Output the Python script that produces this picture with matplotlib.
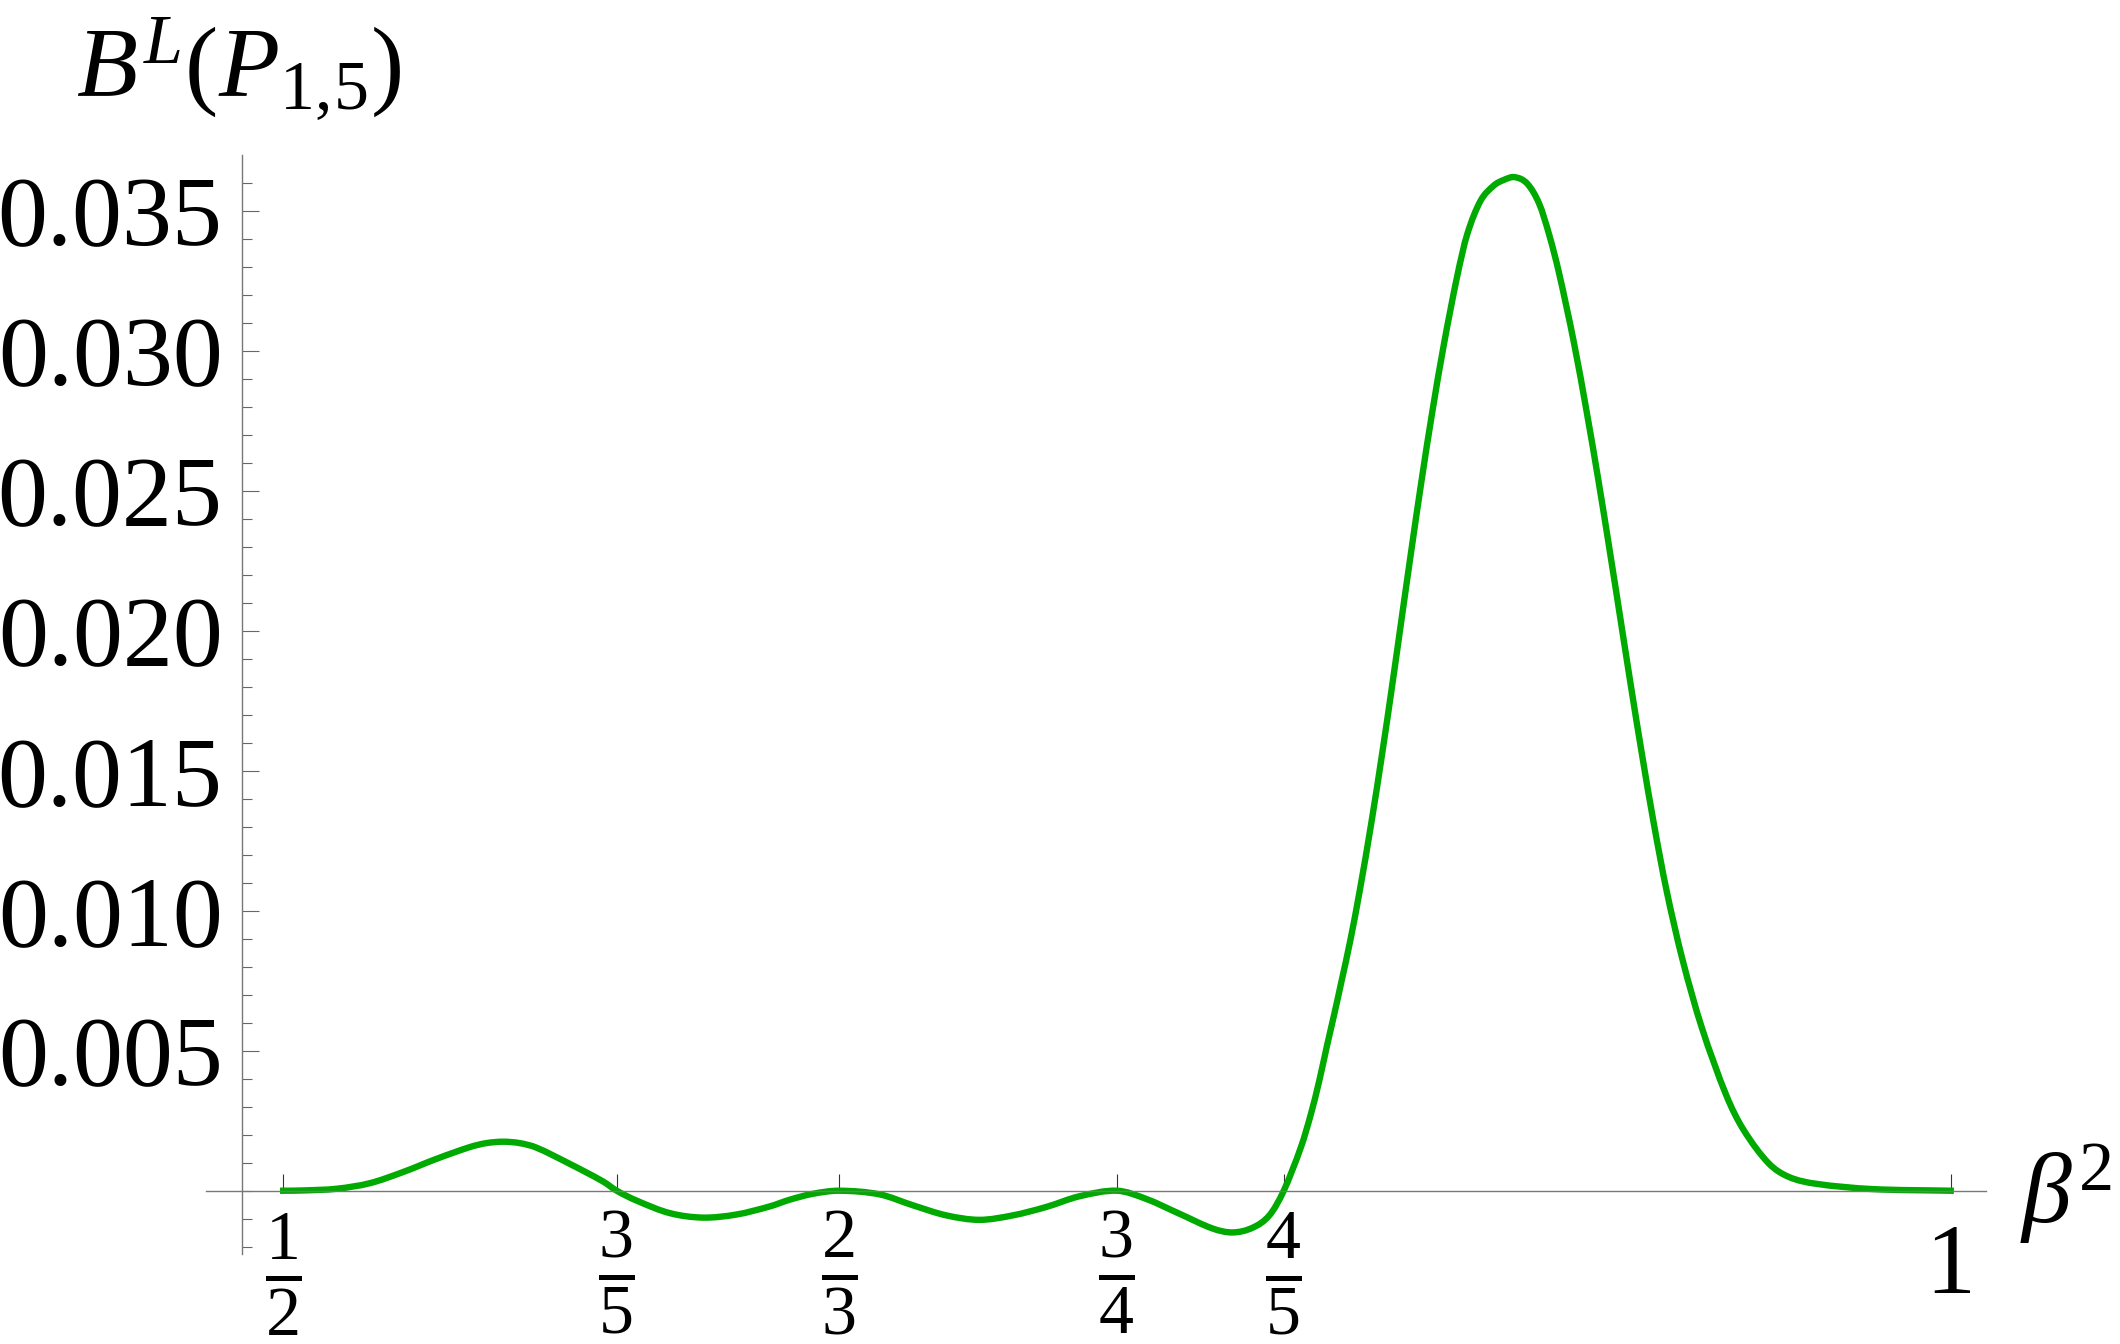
import matplotlib
matplotlib.use('Agg')
import matplotlib.pyplot as plt
from matplotlib.ticker import MultipleLocator, FormatStrFormatter
from matplotlib.path import Path
from matplotlib.patches import PathPatch

plt.rcParams['font.family'] = ['Liberation Serif', 'DejaVu Serif']
plt.rcParams['mathtext.fontset'] = 'custom'
plt.rcParams['mathtext.rm'] = 'Liberation Serif'
plt.rcParams['mathtext.it'] = 'Liberation Serif:italic'
plt.rcParams['mathtext.bf'] = 'Liberation Serif:bold'

# curve: beta^2 -> B^L(P_{1,5})
beta2 = [0.5000, 0.5060, 0.5160, 0.5260, 0.5360, 0.5460, 0.5560, 0.5609, 0.5659, 0.5709,
         0.5759, 0.5859, 0.5959, 0.6000, 0.6059, 0.6159, 0.6259, 0.6359, 0.6459, 0.6519,
         0.6588, 0.6667, 0.6788, 0.6888, 0.6988, 0.7088, 0.7188, 0.7288, 0.7387, 0.7500,
         0.7587, 0.7687, 0.7787, 0.7847, 0.7907, 0.7957, 0.8000, 0.8052, 0.8082, 0.8107,
         0.8129, 0.8152, 0.8174, 0.8199, 0.8228, 0.8263, 0.8295, 0.8325, 0.8354, 0.8383,
         0.8413, 0.8445, 0.8480, 0.8520, 0.8550, 0.8590, 0.8630, 0.8660, 0.8692, 0.8730,
         0.8766, 0.8797, 0.8826, 0.8870, 0.8909, 0.8944, 0.8977, 0.9009, 0.9041, 0.9074,
         0.9109, 0.9148, 0.9195, 0.9253, 0.9327, 0.9378, 0.9454, 0.9515, 0.9595, 0.9763,
         1.0000]
b_l = [0.0, 0.00001, 0.00007, 0.00027, 0.00067, 0.00114, 0.00156, 0.00170, 0.00175, 0.00170,
       0.00154, 0.00096, 0.00033, 0.0, -0.00035, -0.00080, -0.00096, -0.00085, -0.00056, -0.00032,
       -0.00011, 0.0, -0.00013, -0.00052, -0.00088, -0.00104, -0.00088, -0.00058, -0.00020, 0.0,
       -0.00029, -0.00082, -0.00135, -0.00149, -0.00132, -0.00088, 0.0, 0.00157, 0.00276, 0.00395,
       0.00514, 0.00633, 0.00752, 0.00890, 0.01072, 0.01316, 0.01560, 0.01803, 0.02047, 0.02290,
       0.02534, 0.02778, 0.03021, 0.03265, 0.03415, 0.03535, 0.03590, 0.03610, 0.03620, 0.03597,
       0.03525, 0.03410, 0.03275, 0.03030, 0.02778, 0.02534, 0.02290, 0.02047, 0.01803, 0.01560,
       0.01316, 0.01072, 0.00829, 0.00585, 0.00341, 0.00219, 0.00098, 0.00049, 0.00025, 0.00006,
       0.0]

x_ticks = [1/2, 3/5, 2/3, 3/4, 4/5, 1]
x_labels = [r'$\genfrac{}{}{5}{}{1}{2}$', r'$\genfrac{}{}{5}{}{3}{5}$', r'$\genfrac{}{}{5}{}{2}{3}$',
            r'$\genfrac{}{}{5}{}{3}{4}$', r'$\genfrac{}{}{5}{}{4}{5}$', '1']
y_ticks = [0.005, 0.010, 0.015, 0.020, 0.025, 0.030, 0.035]


def smooth_path(xs, ys):
    # cubic Hermite segments through the read points (drawn as a smooth line)
    n = len(xs)
    m = []
    for i in range(n):
        if i == 0:
            m.append((ys[1] - ys[0]) / (xs[1] - xs[0]))
        elif i == n - 1:
            m.append((ys[-1] - ys[-2]) / (xs[-1] - xs[-2]))
        else:
            m.append((ys[i + 1] - ys[i - 1]) / (xs[i + 1] - xs[i - 1]))
    verts = [(xs[0], ys[0])]
    codes = [Path.MOVETO]
    for i in range(n - 1):
        h = xs[i + 1] - xs[i]
        verts += [(xs[i] + h / 3, ys[i] + m[i] * h / 3),
                  (xs[i + 1] - h / 3, ys[i + 1] - m[i + 1] * h / 3),
                  (xs[i + 1], ys[i + 1])]
        codes += [Path.CURVE4] * 3
    return Path(verts, codes)


fig = plt.figure(figsize=(21.2, 13.44), dpi=100)
ax = fig.add_axes([206/2120, 90/1344, 1780/2120, 1099/1344])

curve = PathPatch(smooth_path(beta2, b_l), facecolor='none', edgecolor='#00aa00', lw=4.6,
                  capstyle='projecting', joinstyle='round', zorder=2)
ax.add_patch(curve)

ax.set_xlim(0.47684, 1.01058)
ax.set_ylim(-0.00226, 0.03699)

for s in ['top', 'right']:
    ax.spines[s].set_visible(False)
ax.spines['left'].set_position(('data', 0.48753))
ax.spines['bottom'].set_position(('data', 0))
for s in ['left', 'bottom']:
    ax.spines[s].set_color('#777777')
    ax.spines[s].set_linewidth(1.0)
    ax.spines[s].set_zorder(3)

ax.set_xticks(x_ticks)
ax.set_xticklabels([''] * len(x_ticks))
ax.tick_params(axis='x', direction='in', length=12, width=0.8, color='#333333')

ax.set_yticks(y_ticks)
ax.yaxis.set_major_formatter(FormatStrFormatter('%.3f'))
ax.yaxis.set_minor_locator(MultipleLocator(0.001))
ax.tick_params(axis='y', which='major', direction='in', length=12.2, width=0.8,
               color='#666666', labelsize=72, pad=13.7)
ax.tick_params(axis='y', which='minor', direction='in', length=7.2, width=0.8, color='#666666')

# fraction tick labels below the axis
for xv, lab in zip(x_ticks, x_labels):
    drop = -74 if lab == '1' else -81
    ax.annotate(lab, xy=(xv, 0), xytext=(0, drop), textcoords='offset points',
                ha='center', va='baseline', fontsize=72, annotation_clip=False)

fig.text(76/2120, 1 - 97/1344, r'$B^{L}(P_{1,\!5})$', fontsize=72, ha='left', va='baseline')
fig.text(2020/2120, 1 - 1223/1344, r'$\beta^{2}$', fontsize=72, ha='left', va='baseline')

fig.savefig('out.png', dpi=100)
